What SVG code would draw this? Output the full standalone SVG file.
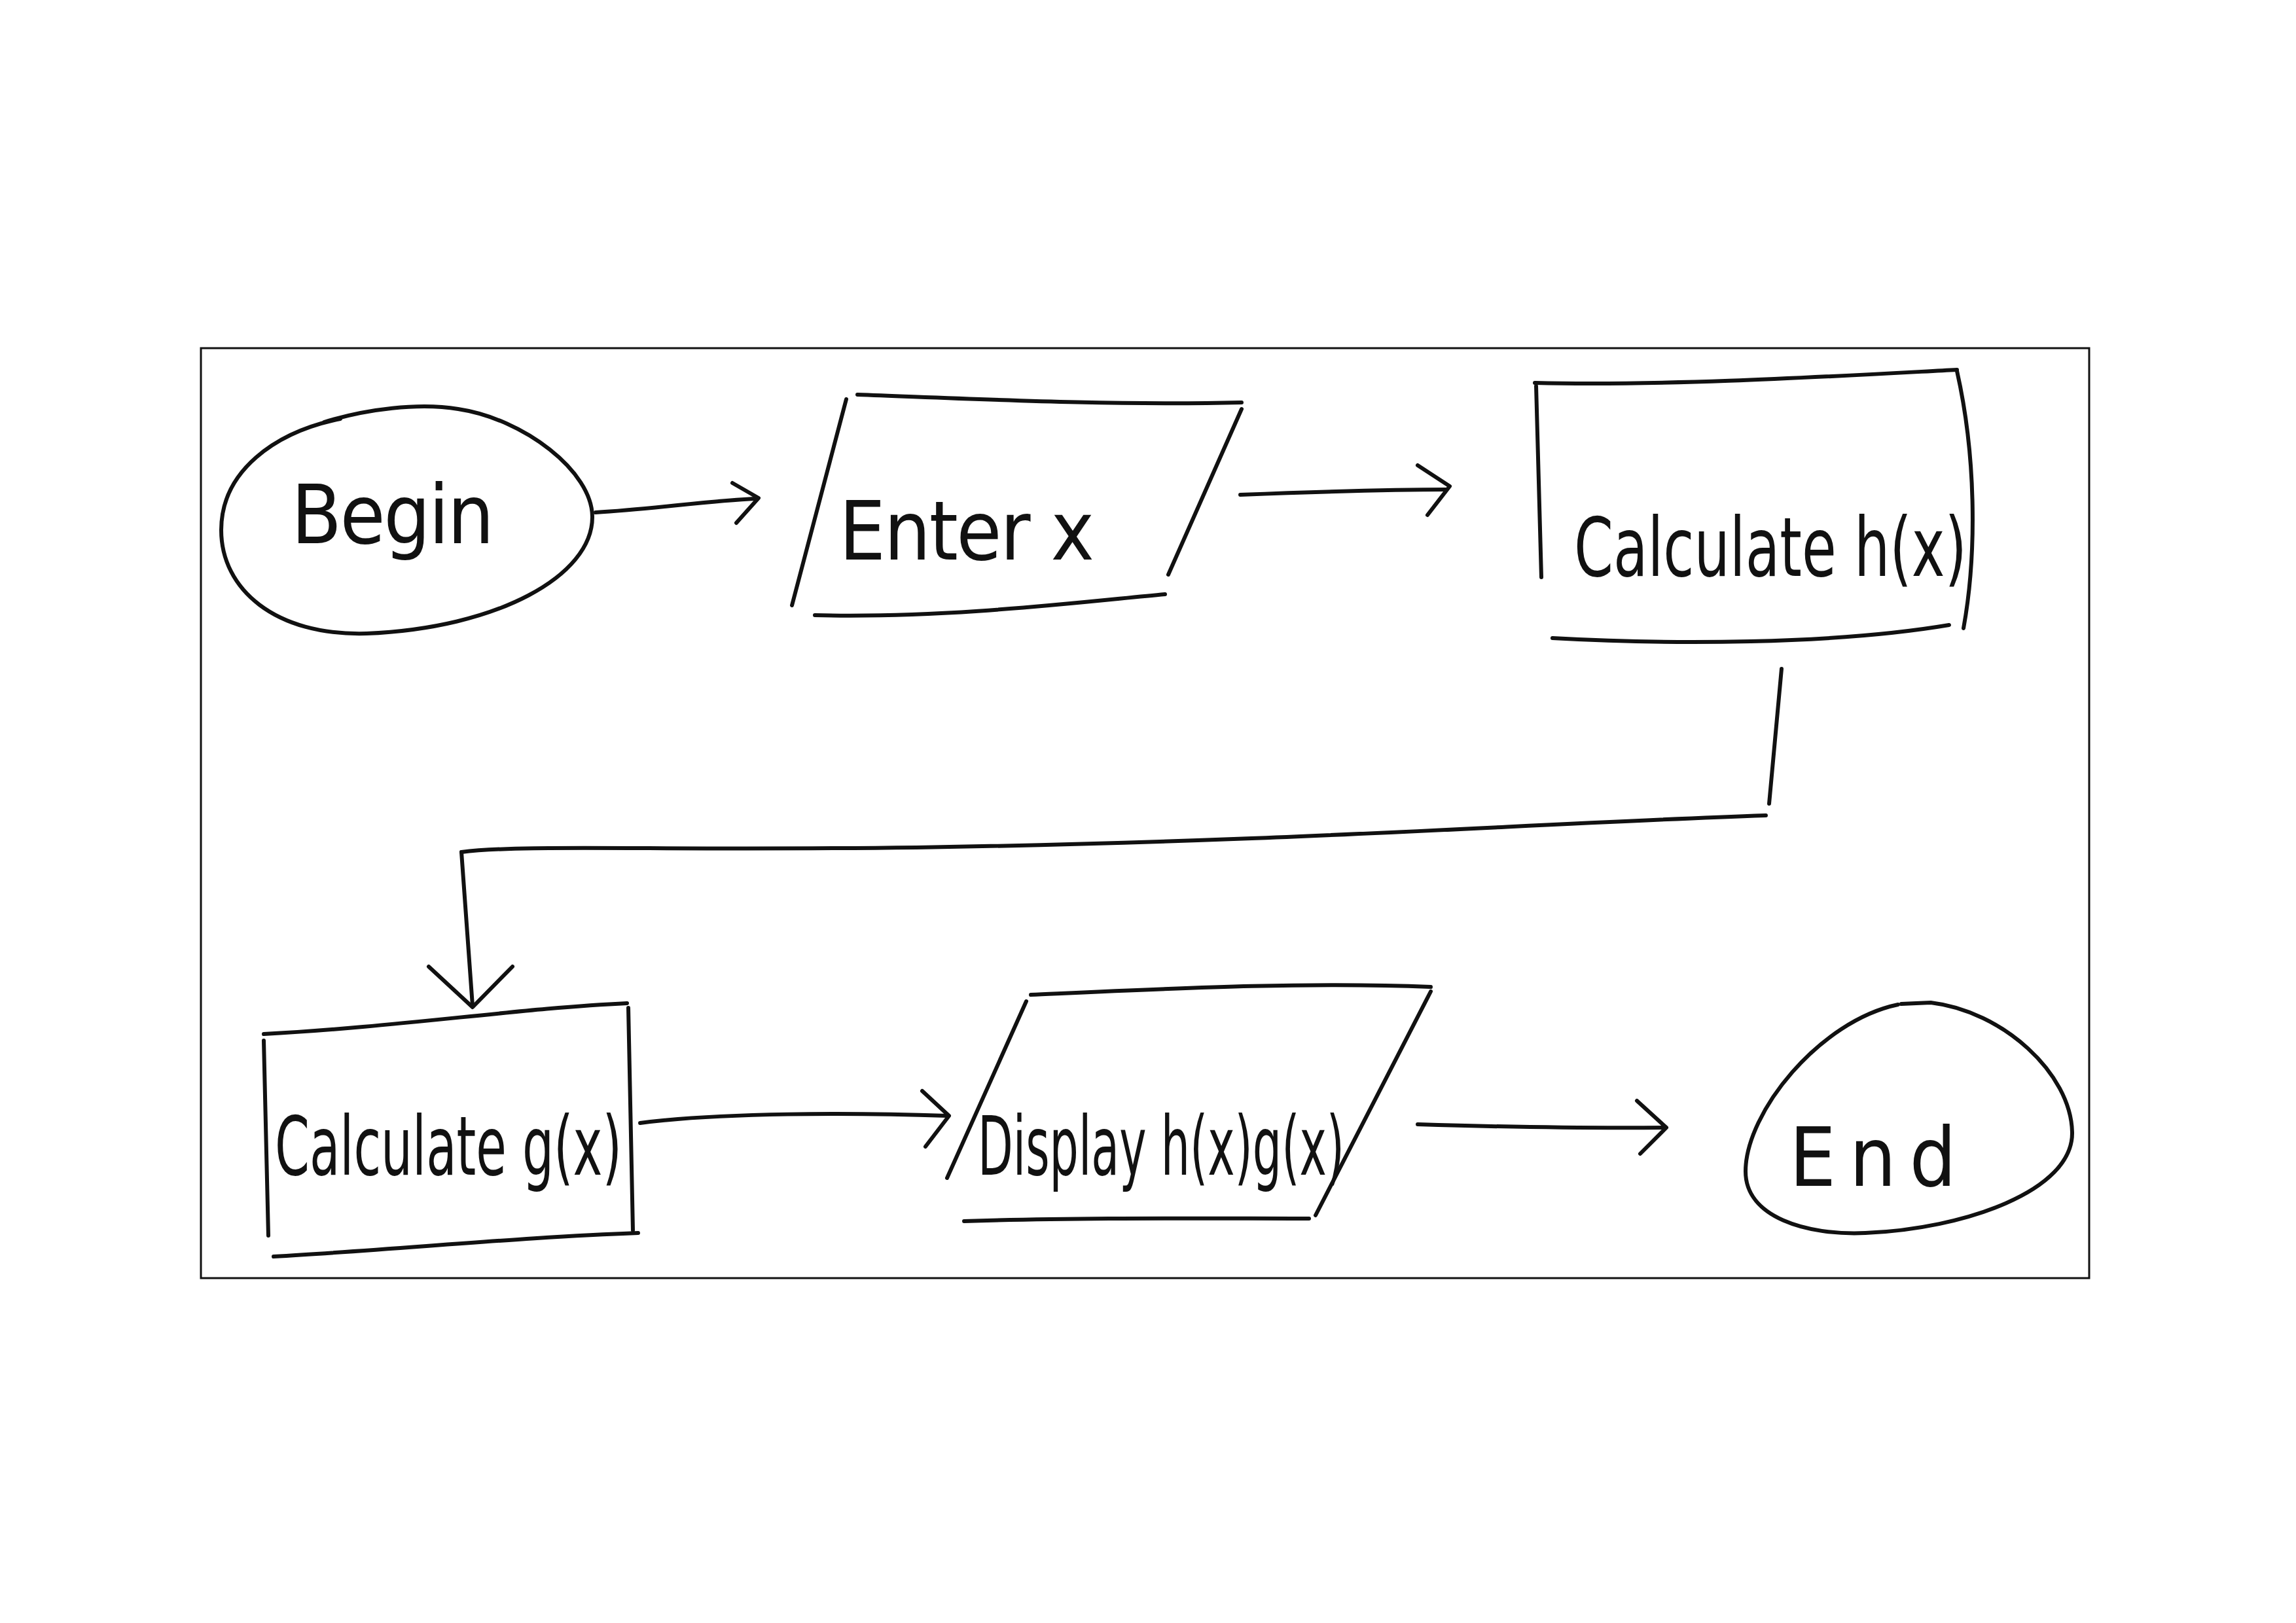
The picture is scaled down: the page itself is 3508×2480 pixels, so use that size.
<svg xmlns="http://www.w3.org/2000/svg" width="3508" height="2480" viewBox="0 0 3508 2480">
<style>
.s{fill:none;stroke:#111;stroke-width:6;stroke-linecap:round;stroke-linejoin:round}
.f{fill:none;stroke:#111;stroke-width:3}
.t{font-family:"Liberation Sans Narrow","DejaVu Sans Condensed","Liberation Sans",sans-serif;font-size:125px;fill:#111}
</style>
<rect width="3508" height="2480" fill="#ffffff"/>
<rect id="frame" class="f" x="307" y="532" width="2885" height="1421"/>
<g id="begin">
<path class="s" d="M 495 645 C 560 625 640 615 700 625 C 800 640 905 720 905 790 C 905 880 760 960 560 968 C 420 972 338 900 338 810 C 338 720 420 660 520 640"/>
<text class="t" x="445" y="830" textLength="310" lengthAdjust="spacing">Begin</text>
</g>
<g id="enter">
<path class="s" d="M 1310 603 C 1500 610 1700 620 1897 615"/>
<path class="s" d="M 1293 610 L 1210 925"/>
<path class="s" d="M 1245 940 C 1450 945 1650 920 1780 908"/>
<path class="s" d="M 1897 625 L 1785 878"/>
<text class="t" x="1282" y="855" textLength="390" lengthAdjust="spacing">Enter x</text>
</g>
<g id="calch">
<path class="s" d="M 2345 585 C 2550 590 2800 575 2990 565"/>
<path class="s" d="M 2347 590 L 2355 882"/>
<path class="s" d="M 2990 567 C 3020 700 3020 850 3000 960"/>
<path class="s" d="M 2372 975 C 2550 985 2800 985 2978 955"/>
<text class="t" x="2405" y="880" textLength="600" lengthAdjust="spacingAndGlyphs">Calculate h(x)</text>
</g>
<g id="calcg">
<path class="s" d="M 403 1580 C 600 1570 800 1540 958 1533"/>
<path class="s" d="M 403 1590 L 410 1888"/>
<path class="s" d="M 960 1540 L 967 1880"/>
<path class="s" d="M 418 1920 C 600 1910 800 1890 975 1884"/>
<text class="t" x="420" y="1795" textLength="530" lengthAdjust="spacingAndGlyphs">Calculate g(x)</text>
</g>
<g id="display">
<path class="s" d="M 1575 1520 C 1800 1510 2000 1500 2186 1508"/>
<path class="s" d="M 1568 1530 L 1447 1800"/>
<path class="s" d="M 1473 1866 C 1650 1860 1850 1862 2000 1862"/>
<path class="s" d="M 2186 1515 L 2010 1857"/>
<text class="t" x="1494" y="1795" textLength="560" lengthAdjust="spacingAndGlyphs">Display h(x)g(x)</text>
</g>
<g id="end">
<path class="s" d="M 2900 1535 C 2780 1560 2667 1700 2667 1790 C 2667 1860 2760 1888 2850 1884 C 3000 1878 3168 1820 3166 1730 C 3164 1640 3060 1545 2950 1532 L 2905 1534"/>
<text class="t" x="2734" y="1812" textLength="255" lengthAdjust="spacing">End</text>
</g>
<g id="connectors">
<path class="s" d="M 910 783 C 1000 778 1080 765 1155 762"/>
<path class="s" d="M 1119 738 L 1159 761 L 1125 799"/>
<path class="s" d="M 1895 756 C 2000 752 2120 748 2210 748"/>
<path class="s" d="M 2166 711 L 2215 743 L 2181 787"/>
<path class="s" d="M 2722 1022 L 2703 1228"/>
<path class="s" d="M 2698 1246 C 2300 1260 2000 1285 1400 1295 C 1000 1300 800 1290 705 1302"/>
<path class="s" d="M 705 1302 L 722 1537"/>
<path class="s" d="M 655 1477 L 722 1539 L 783 1477"/>
<path class="s" d="M 978 1716 C 1100 1700 1300 1700 1448 1705"/>
<path class="s" d="M 1409 1667 L 1450 1705 L 1414 1752"/>
<path class="s" d="M 2166 1718 C 2300 1722 2450 1724 2543 1723"/>
<path class="s" d="M 2501 1682 L 2546 1723 L 2506 1763"/>
</g>
</svg>
